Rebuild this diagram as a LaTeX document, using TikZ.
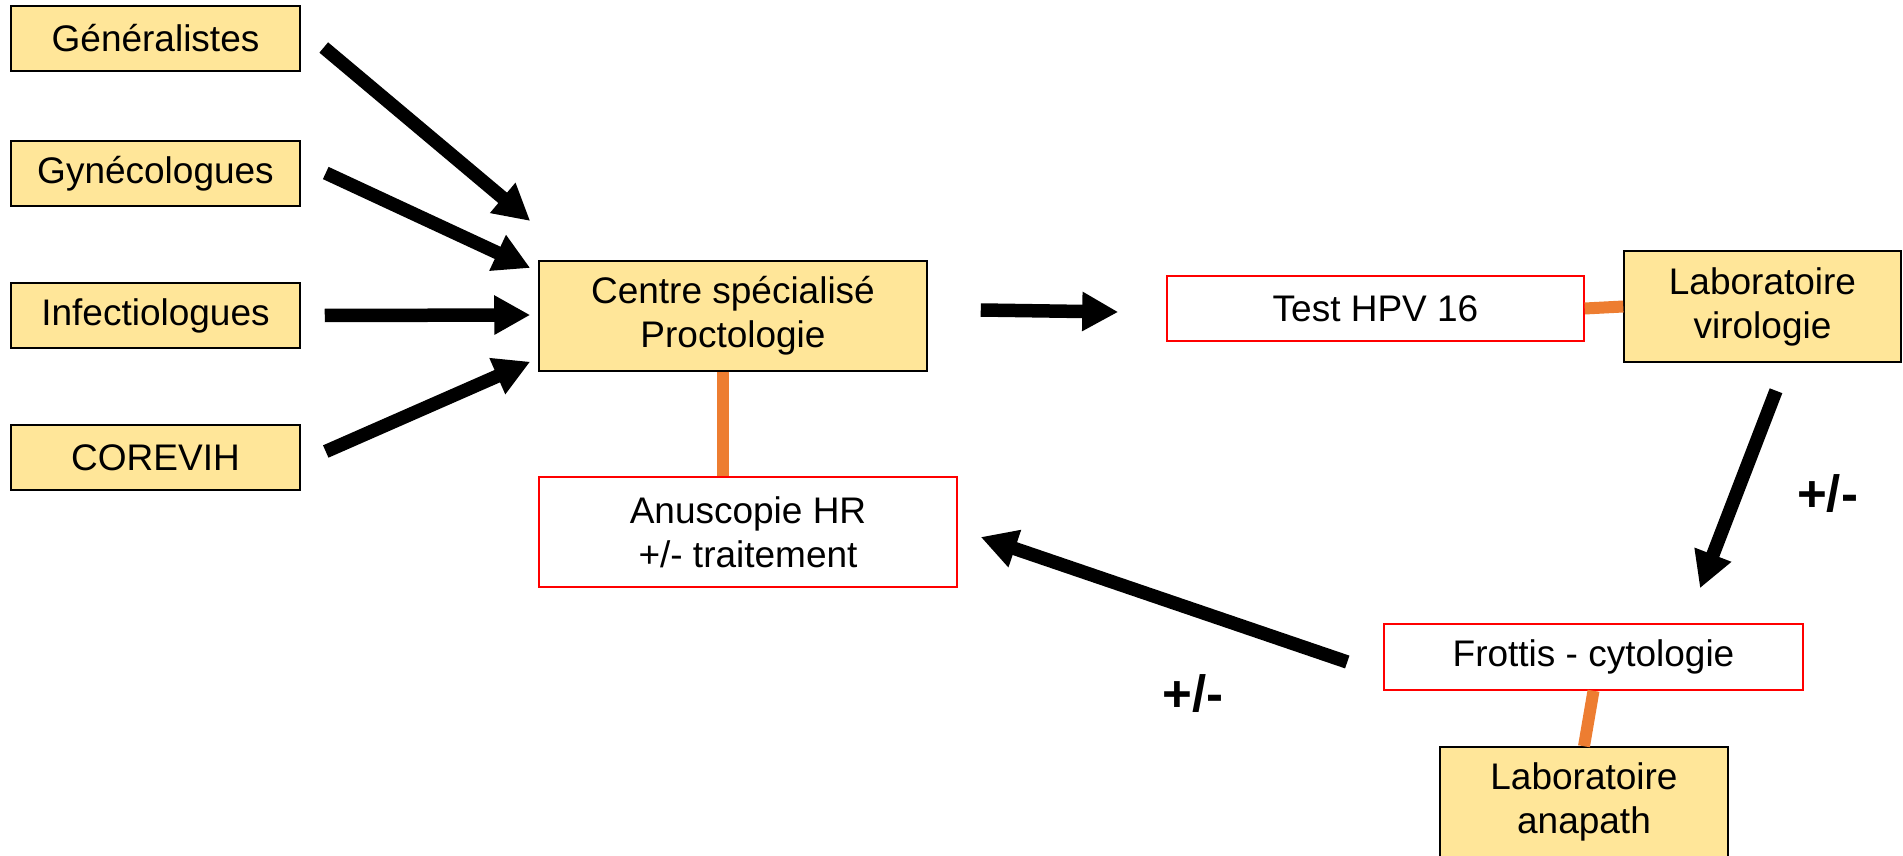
\documentclass[tikz,border=0pt]{standalone}
\usepackage{fontspec}
\setmainfont{Liberation Sans}
\usetikzlibrary{arrows.meta,calc}
\definecolor{boxyellow}{HTML}{FFE699}
\definecolor{linkorange}{HTML}{ED7D31}
\definecolor{boxred}{HTML}{FF0000}
\begin{document}
\begin{tikzpicture}[x=0.5pt,y=-0.5pt,
  basebox/.style={line width=0.75pt, inner sep=0pt, align=center, text=black,
    font=\fontsize{18.5pt}{22pt}\selectfont},
  ybox/.style={basebox, draw=black, fill=boxyellow},
  rbox/.style={basebox, draw=boxred, fill=white},
  flow/.style={line width=6.75pt, -{Triangle[width=18.5pt,length=18pt]}},
  link/.style={draw=linkorange, line width=6pt},
  pm/.style={font=\fontsize{25.5pt}{30pt}\selectfont\bfseries, inner sep=0pt}
]
\useasboundingbox (0,0) rectangle (1903,856);

\node[ybox, minimum width=144.5pt, minimum height=32.5pt] (gen) at (155.5,38.5) {Généralistes};
\node[ybox, minimum width=144.5pt, minimum height=32.5pt] (gyn) at (155.5,173.5) {Gynécologues};
\node[ybox, minimum width=144.5pt, minimum height=32.5pt] (inf) at (155.5,315.5) {Infectiologues};
\node[ybox, minimum width=144.5pt, minimum height=32.5pt] (cor) at (155.5,457.5) {COREVIH};

\node[ybox, minimum width=194pt, minimum height=55pt] (centre) at (733,316) {Centre spécialisé\\Proctologie};
\node[rbox, minimum width=209pt, minimum height=55pt] (anus) at (748,532) {Anuscopie HR\\+/- traitement};
\node[rbox, minimum width=208.5pt, minimum height=32.5pt] (test) at (1375.5,308.5) {Test HPV 16};
\node[ybox, minimum width=138.5pt, minimum height=55.5pt] (lvir) at (1762.5,306.5) {Laboratoire\\virologie};
\node[rbox, minimum width=209.5pt, minimum height=33pt] (frot) at (1593.5,657) {Frottis - cytologie};
\node[ybox, minimum width=144pt, minimum height=55pt] (lana) at (1584,802) {Laboratoire\\anapath};

\node[pm] (pm1) at (1827.5,494) {+/-};
\node[pm] (pm2) at (1193,694) {+/-};

% orange links
\draw[link] ($(centre.south)+(-10,0)$) -- ($(anus.north)+(-25,0)$);
\draw[link] (test.east) -- (lvir.west);
\draw[link] (frot.south) -- (lana.north);

% arrows
\draw[flow] ($(gen.east)+(23,9)$) -- ($(centre.west)+(-8,-95)$);
\draw[flow] ($(gyn.east)+(25,-0.5)$) -- ($(centre.west)+(-8,-48)$);
\draw[flow] ($(inf.east)+(24,0)$) -- ($(centre.west)+(-8,-1)$);
\draw[flow] ($(cor.east)+(25,-6)$) -- ($(centre.west)+(-8,45.7)$);
\draw[flow] ($(centre.east)+(53,-6)$) -- ($(test.west)+(-48,3.5)$);
\draw[flow] ($(lvir.south)+(13.5,28)$) -- ($(frot.north)+(106.5,-35)$);
\draw[flow] ($(frot.west)+(-36,5)$) -- ($(anus.east)+(23,5)$);
\end{tikzpicture}
\end{document}
